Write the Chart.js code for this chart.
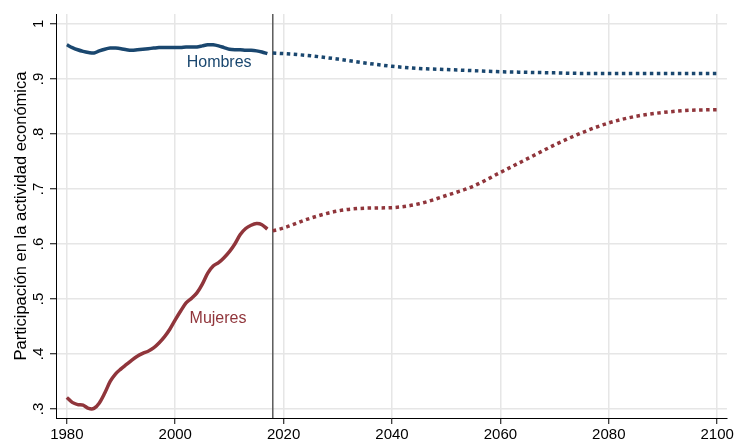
<!DOCTYPE html>
<html>
<head>
<meta charset="utf-8">
<script src="https://cdn.jsdelivr.net/npm/chart.js@4"></script>
<style>
  html, body { margin: 0; padding: 0; background: #fff; }
  canvas { display: block; }
</style>
</head>
<body>
<canvas id="chart" width="736" height="444"></canvas>
<script>
// --- Datos ---
const añosHist = [1980, 1981, 1982, 1983, 1984, 1985, 1986, 1987, 1988, 1989,
                  1990, 1991, 1992, 1993, 1994, 1995, 1996, 1997, 1998, 1999,
                  2000, 2001, 2002, 2003, 2004, 2005, 2006, 2007, 2008, 2009,
                  2010, 2011, 2012, 2013, 2014, 2015, 2016, 2017];
const hombresHist = [.962, .957, .953, .950, .948, .947, .951, .954, .956, .956,
                     .955, .953, .952, .953, .954, .955, .956, .957, .957, .957,
                     .957, .957, .958, .958, .958, .960, .962, .962, .960, .957,
                     .954, .953, .953, .952, .952, .951, .949, .946];
const mujeresHist = [.321, .312, .308, .307, .301, .301, .311, .329, .350, .364,
                     .373, .381, .389, .396, .401, .405, .411, .420, .431, .445,
                     .462, .478, .493, .501, .511, .527, .547, .560, .566, .575,
                     .586, .600, .617, .628, .634, .637, .635, .627];

const añosProy = [2018, 2020, 2025, 2030, 2035, 2040, 2045, 2050, 2055, 2060,
                  2065, 2070, 2075, 2080, 2085, 2090, 2095, 2100];
const hombresProy = [.947, .946, .942, .936, .929, .923, .919, .917, .915, .913,
                     .912, .911, .910, .910, .910, .910, .910, .910];
const mujeresProy = [.624, .629, .647, .660, .665, .666, .673, .688, .705, .730,
                     .755, .780, .802, .820, .832, .839, .843, .844];

const añoCorte = 2018;
const ticksX = [1980, 2000, 2020, 2040, 2060, 2080, 2100];
const ticksY = [.3, .4, .5, .6, .7, .8, .9, 1];

const colorHombres = '#1a476f';
const colorMujeres = '#90353b';
const fuente = '"Liberation Sans", Arial, sans-serif';

const puntos = (xs, ys) => xs.map((x, i) => ({ x: x, y: ys[i] }));

function etiquetaY(v) {
    const r = Math.round(v * 10) / 10;
    return r >= 1 ? String(r) : String(r).replace(/^0/, '');
}

// Línea vertical, etiquetas de series y etiquetas del eje Y (rotadas, estilo Stata)
const extras = {
    id: 'extras',
    beforeDatasetsDraw(chart) {
        const { ctx, chartArea, scales } = chart;
        const x = scales.x.getPixelForValue(añoCorte);
        ctx.save();
        ctx.strokeStyle = '#5a5a5a';
        ctx.lineWidth = 1.5;
        ctx.beginPath();
        ctx.moveTo(x, chartArea.top);
        ctx.lineTo(x, chartArea.bottom);
        ctx.stroke();
        ctx.restore();
    },
    afterDatasetsDraw(chart) {
        const { ctx, scales } = chart;
        ctx.save();
        ctx.font = '16px ' + fuente;
        ctx.textAlign = 'center';
        ctx.textBaseline = 'middle';
        ctx.fillStyle = colorHombres;
        ctx.fillText('Hombres', scales.x.getPixelForValue(2008.1), scales.y.getPixelForValue(.929));
        ctx.fillStyle = colorMujeres;
        ctx.fillText('Mujeres', scales.x.getPixelForValue(2007.9), scales.y.getPixelForValue(.464));
        ctx.restore();
    },
    afterDraw(chart) {
        const { ctx, scales } = chart;
        ctx.save();
        ctx.font = '15px ' + fuente;
        ctx.fillStyle = '#000';
        ctx.textAlign = 'center';
        ctx.textBaseline = 'alphabetic';
        ticksY.forEach(v => {
            const y = scales.y.getPixelForValue(v);
            ctx.save();
            ctx.translate(43, y);
            ctx.rotate(-Math.PI / 2);
            ctx.fillText(etiquetaY(v), 0, 0);
            ctx.restore();
        });
        ctx.restore();
    }
};

new Chart(document.getElementById('chart'), {
    type: 'line',
    data: {
        datasets: [
            {
                label: 'Hombres',
                data: puntos(añosHist, hombresHist),
                borderColor: colorHombres,
                borderWidth: 3.5,
                tension: 0.3
            },
            {
                label: 'Hombres (proyección)',
                data: puntos(añosProy, hombresProy),
                borderColor: colorHombres,
                borderWidth: 3.5,
                borderDash: [3.5, 3.5],
                borderCapStyle: 'butt',
                cubicInterpolationMode: 'monotone'
            },
            {
                label: 'Mujeres',
                data: puntos(añosHist, mujeresHist),
                borderColor: colorMujeres,
                borderWidth: 3.5,
                tension: 0.3
            },
            {
                label: 'Mujeres (proyección)',
                data: puntos(añosProy, mujeresProy),
                borderColor: colorMujeres,
                borderWidth: 3.5,
                borderDash: [3.5, 3.5],
                borderCapStyle: 'butt',
                cubicInterpolationMode: 'monotone'
            }
        ]
    },
    options: {
        responsive: false,
        animation: false,
        layout: { padding: { top: 14, right: 9, left: 0, bottom: 0 } },
        elements: { point: { radius: 0 } },
        plugins: {
            legend: { display: false },
            tooltip: { enabled: false }
        },
        scales: {
            x: {
                type: 'linear',
                min: 1978,
                max: 2101.8,
                afterBuildTicks: scale => { scale.ticks = ticksX.map(v => ({ value: v })); },
                afterFit: scale => { scale.height = 26; },
                ticks: {
                    includeBounds: false,
                    color: '#000',
                    font: { family: fuente, size: 15 },
                    padding: 2,
                    maxRotation: 0,
                    callback: v => String(v)
                },
                grid: {
                    color: '#e6e6e6',
                    lineWidth: 1.5,
                    tickColor: '#000',
                    tickLength: 6,
                    tickWidth: 1
                },
                border: { color: '#000', width: 1 }
            },
            y: {
                type: 'linear',
                min: 0.2836,
                max: 1.018,
                afterBuildTicks: scale => { scale.ticks = ticksY.map(v => ({ value: v })); },
                afterFit: scale => { scale.width = 56; },
                ticks: { display: false },
                title: {
                    display: true,
                    text: 'Participación en la actividad económica',
                    color: '#000',
                    font: { family: fuente, size: 16.5 },
                    padding: { top: 12, bottom: 0 }
                },
                grid: {
                    color: '#e6e6e6',
                    lineWidth: 1.5,
                    tickColor: '#000',
                    tickLength: 6,
                    tickWidth: 1
                },
                border: { color: '#000', width: 1 }
            }
        }
    },
    plugins: [extras]
});
</script>
</body>
</html>
